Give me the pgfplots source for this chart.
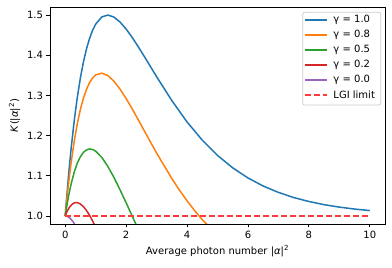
\documentclass[border=0pt]{standalone}
\usepackage{fontspec}
\setmainfont{DejaVu Sans}
\usepackage{pgfplots}
\pgfplotsset{compat=1.18}
\definecolor{cblue}{HTML}{1F77B4}
\definecolor{corange}{HTML}{FF7F0E}
\definecolor{cgreen}{HTML}{2CA02C}
\definecolor{cred}{HTML}{D62728}
\definecolor{cpurple}{HTML}{9467BD}
\definecolor{lgi}{HTML}{FF3A3A}
\newcommand{\gent}[1]{γ~=~#1}
\begin{document}
\fontsize{10}{12}\selectfont
\begin{tikzpicture}
\path[use as bounding box] (-50pt,-44pt) rectangle (342pt,224pt);
\begin{axis}[
  at={(0,0)}, anchor=south west,
  scale only axis, width=335pt, height=217pt,
  xmin=-0.5, xmax=10.5, ymin=0.98, ymax=1.52,
  xtick={0,2,4,6,8,10},
  ytick={1.0,1.1,1.2,1.3,1.4,1.5},
  yticklabel style={/pgf/number format/.cd, fixed, fixed zerofill, precision=1},
  /pgf/number format/assume math mode=true,
  tick align=outside, tick pos=left,
  major tick length=3.5pt,
  tick style={line width=0.8pt, black},
  axis line style={line width=0.8pt},
  ticklabel style={font=\fontsize{10}{12}\selectfont},
  label style={font=\fontsize{10}{12}\selectfont},
  xlabel={Average photon number |\textit{α}|\textsuperscript{2}},
  ylabel={\textit{K}(|\textit{α}|\textsuperscript{2})},
]
\addplot[draw=cblue, line width=1.5pt, forget plot] coordinates {
(0,1.0) (0.05,1.0482) (0.1,1.0928) (0.15,1.1341) (0.2,1.1722) (0.3,1.2398)
(0.4,1.2968) (0.5,1.3445) (0.6,1.3840) (0.7,1.4162) (0.8,1.4420) (0.9,1.4621)
(1.0,1.4773) (1.2,1.4952) (1.4,1.5000) (1.6,1.4949) (1.8,1.4825) (2.0,1.4651)
(2.2,1.4441) (2.4,1.4210) (2.6,1.3965) (2.8,1.3716) (3.0,1.3467) (3.5,1.2872)
(4.0,1.2340) (4.5,1.1886) (5.0,1.1507) (5.5,1.1197) (6.0,1.0946) (6.5,1.0745)
(7.0,1.0586) (7.5,1.0459) (8.0,1.0360) (8.5,1.0281) (9.0,1.0220) (9.5,1.0172)
(10,1.0134)};
\addplot[draw=corange, line width=1.5pt, forget plot] coordinates {
(0,1.0) (0.05,1.0384) (0.1,1.0738) (0.15,1.1062) (0.2,1.1359) (0.3,1.1880)
(0.4,1.2309) (0.5,1.2658) (0.6,1.2938) (0.7,1.3155) (0.8,1.3319) (0.9,1.3434)
(1.0,1.3509) (1.2,1.3554) (1.4,1.3493) (1.6,1.3353) (1.8,1.3156) (2.0,1.2922)
(2.2,1.2663) (2.4,1.2391) (2.6,1.2114) (2.8,1.1838) (3.0,1.1567) (3.5,1.0932)
(3.75,1.0644) (4.0,1.0377) (4.25,1.0132) (4.5,0.9908) (5.0,0.9520)};
\addplot[draw=cgreen, line width=1.5pt, forget plot] coordinates {
(0,1.0) (0.05,1.0238) (0.1,1.0452) (0.15,1.0645) (0.2,1.0816) (0.3,1.1102)
(0.4,1.1320) (0.5,1.1478) (0.6,1.1584) (0.7,1.1645) (0.8,1.1667) (0.9,1.1654)
(1.0,1.1612) (1.2,1.1458) (1.4,1.1233) (1.6,1.0958) (1.8,1.0651) (2.0,1.0328)
(2.2,0.9995) (2.4,0.9664)};
\addplot[draw=cred, line width=1.5pt, forget plot] coordinates {
(0,1.0) (0.05,1.0092) (0.1,1.0167) (0.15,1.0227) (0.2,1.0272) (0.25,1.0304)
(0.3,1.0325) (0.35,1.0333) (0.4,1.0331) (0.5,1.0297) (0.6,1.0230) (0.7,1.0135)
(0.8,1.0015) (0.9,0.9874) (1.0,0.9716)};
\addplot[draw=cpurple, line width=1.5pt, forget plot] coordinates {
(0,1.0) (0.05,0.99939) (0.1,0.99762) (0.15,0.99478) (0.2,0.99094) (0.25,0.98619)
(0.3,0.98060) (0.35,0.97423)};
\addplot[draw=lgi, line width=2pt, dash pattern=on 6pt off 3pt, forget plot] coordinates {(0,1.0) (10,1.0)};
\end{axis}
% legend
\draw[black!20, line width=0.8pt, rounded corners=2pt, fill=white] (252.7pt,119pt) rectangle (330.7pt,211.7pt);
\draw[cblue, line width=1.5pt] (255.5pt,204pt) -- (276.7pt,204pt);
\node[anchor=west, inner sep=0pt] at (283.3pt,204pt) {\gent{1.0}};
\draw[corange, line width=1.5pt] (255.5pt,189pt) -- (276.7pt,189pt);
\node[anchor=west, inner sep=0pt] at (283.3pt,189pt) {\gent{0.8}};
\draw[cgreen, line width=1.5pt] (255.5pt,174pt) -- (276.7pt,174pt);
\node[anchor=west, inner sep=0pt] at (283.3pt,174pt) {\gent{0.5}};
\draw[cred, line width=1.5pt] (255.5pt,159pt) -- (276.7pt,159pt);
\node[anchor=west, inner sep=0pt] at (283.3pt,159pt) {\gent{0.2}};
\draw[cpurple, line width=1.5pt] (255.5pt,144pt) -- (276.7pt,144pt);
\node[anchor=west, inner sep=0pt] at (283.3pt,144pt) {\gent{0.0}};
\draw[lgi, line width=2pt, dash pattern=on 6pt off 3pt] (255.5pt,129pt) -- (276.7pt,129pt);
\node[anchor=west, inner sep=0pt] at (283.3pt,129pt) {LGI limit};
\end{tikzpicture}
\end{document}
